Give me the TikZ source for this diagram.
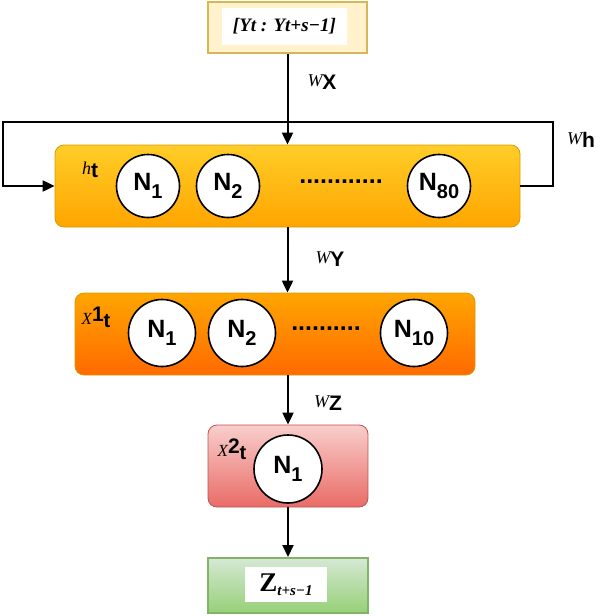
\documentclass[tikz,border=0pt]{standalone}
\usepackage{fontspec}
\setmainfont{Liberation Serif}
\setsansfont{Liberation Sans}
\usetikzlibrary{arrows.meta}
\usetikzlibrary{shapes}

\definecolor{hidtop}{HTML}{FFCD28}
\definecolor{hidbot}{HTML}{FFA500}
\definecolor{hidline}{HTML}{D79B00}
\definecolor{otop}{HTML}{FFA500}
\definecolor{obot}{HTML}{FF6A00}
\definecolor{redtop}{HTML}{F8CECC}
\definecolor{redbot}{HTML}{EA6B66}
\definecolor{redline}{HTML}{B85450}
\definecolor{restop}{HTML}{D5E8D4}
\definecolor{resbot}{HTML}{97D077}
\definecolor{resline}{HTML}{82B366}
\definecolor{inpfill}{HTML}{FFF2CC}
\definecolor{inpline}{HTML}{D6B656}

\newcommand\wlab[1]{\raisebox{0.3em}{\fontsize{18}{18}\selectfont\rmfamily\itshape W}{\fontsize{21}{21}\selectfont\sffamily\bfseries #1}}
\newcommand\nrn[1]{N\raisebox{-0.3em}{\fontsize{20}{20}\selectfont #1}}
\newcommand\xlab[1]{{\fontsize{17}{17}\selectfont\rmfamily\itshape X}\raisebox{0.3em}{\fontsize{21}{21}\selectfont\sffamily\bfseries #1}\raisebox{-0.3em}{\fontsize{20}{20}\selectfont\sffamily\bfseries t}}

\begin{document}
\begin{tikzpicture}[x=1pt,y=-1pt,
flow/.style={line width=2pt,-{Triangle[length=12pt,width=11pt]}},
layer/.style={rectangle,rounded corners=9pt,draw=#1,line width=0.8pt,minimum height=82pt,inner sep=0pt},
neuron/.style={circle,draw,line width=1.6pt,fill=white,minimum size=#1,inner sep=0pt,
  font=\fontsize{25}{25}\selectfont\sffamily\bfseries},
dotrow/.style={inner sep=0pt,font=\fontsize{25}{25}\selectfont\sffamily\bfseries},
lab/.style={inner sep=0pt}]
\useasboundingbox (0,0) rectangle (600,616);

\node[rectangle,draw=inpline,line width=2pt,fill=inpfill,minimum width=159pt,minimum height=51pt] (inp) at (287.5,27.5) {};
\node[fill=white,inner sep=0pt,minimum width=125pt,minimum height=37pt,
  font=\fontsize{19}{19}\selectfont\bfseries\itshape] (inptxt) at (284.5,26.5) {[Yt : Yt+s−1]};

\node[layer=hidline,top color=hidtop,bottom color=hidbot,minimum width=465pt] (hid) at (287.5,186) {};
\node[neuron=63pt] (h1) at (148,186) {\nrn{1}};
\node[neuron=63pt] (h2) at (228,186) {\nrn{2}};
\node[dotrow] (hdots) at (341,182) {............};
\node[neuron=63pt] (h80) at (439,186) {\nrn{80}};
\node[lab] (hlab) at (90,170) {\raisebox{0.3em}{\fontsize{18}{18}\selectfont\itshape h}{\fontsize{21}{21}\selectfont\sffamily\bfseries t}};

\node[layer=hidline,top color=otop,bottom color=obot,minimum width=400pt] (out1) at (275,334) {};
\node[neuron=67pt] (o1) at (162,333) {\nrn{1}};
\node[neuron=67pt] (o2) at (242,333) {\nrn{2}};
\node[dotrow] (odots) at (326,329) {..........};
\node[neuron=67pt] (o10) at (414,333) {\nrn{10}};
\node[lab] (olab) at (96,317) {\xlab{1}};

\node[layer=redline,top color=redtop,bottom color=redbot,minimum width=160pt] (out2) at (288,466) {};
\node[neuron=68pt] (z1) at (288,469) {\nrn{1}};
\node[lab] (zlab) at (232,449) {\xlab{2}};

\node[rectangle,draw=resline,line width=2pt,top color=restop,bottom color=resbot,minimum width=160pt,minimum height=55pt] (res) at (288,585.5) {};
\node[fill=white,inner sep=0pt,minimum width=82pt,minimum height=35pt] (restxt) at (286,584.5)
  {{\fontsize{27}{27}\selectfont\bfseries Z}\raisebox{-0.35em}{\fontsize{15}{15}\selectfont\bfseries\itshape t+s−1}};

\coordinate (lr) at (553,122);
\coordinate (ll) at (3,122);

\draw[flow] (inp) -- (hid);
\draw[flow] (hid.east) -| (lr) -- (ll) |- (hid.west);
\draw[flow] (hid.south) -- (hid.south |- out1.north);
\draw[flow] (out2.north |- out1.south) -- (out2.north);
\draw[flow] (out2) -- (res);

\node[lab] (wx) at (322,82) {\wlab{X}};
\node[lab] (wh) at (581,140) {\wlab{h}};
\node[lab] (wy) at (330,259) {\wlab{Y}};
\node[lab] (wz) at (328,403) {\wlab{Z}};
\end{tikzpicture}
\end{document}
